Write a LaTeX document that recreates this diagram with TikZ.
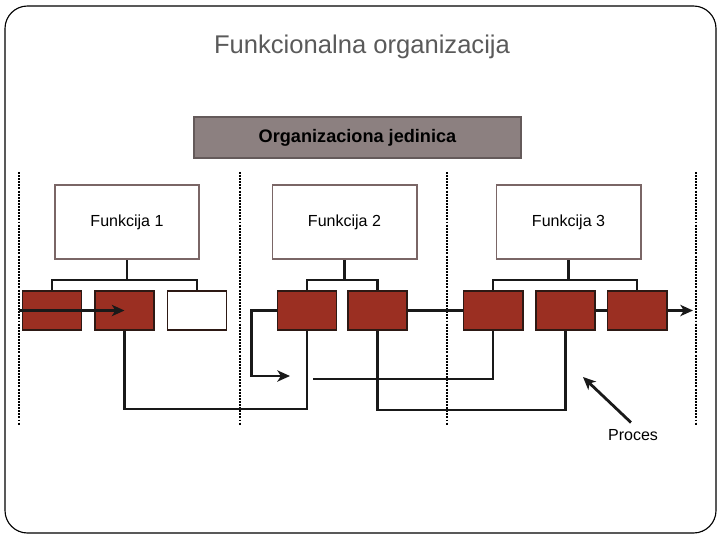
\documentclass[tikz,border=0pt]{standalone}
\usepackage{fontspec}
\setmainfont{Liberation Sans}
\usetikzlibrary{arrows.meta}
\definecolor{cellred}{RGB}{155,47,34}
\definecolor{celledge}{RGB}{45,25,20}
\definecolor{funcedge}{RGB}{122,102,102}
\definecolor{unitfill}{RGB}{140,128,128}
\definecolor{unitedge}{RGB}{100,90,90}
\definecolor{titlegray}{RGB}{90,90,90}
\begin{document}
\begin{tikzpicture}[
	  x=0.025cm, y=-0.025cm,
	  title/.style={font=\fontsize{18.2}{20}\selectfont, text=titlegray, anchor=center},
	  unit/.style={draw=unitedge, fill=unitfill, line width=1.4pt, minimum width=8.175cm,
	    minimum height=1.025cm, font=\fontsize{12.9}{14}\selectfont\bfseries, inner sep=0pt},
	  func/.style={draw=funcedge, fill=white, line width=1.4pt, minimum width=3.6cm,
	    minimum height=1.85cm, font=\fontsize{11.4}{13}\selectfont, inner sep=0pt},
	  cell/.style={draw=celledge, fill=cellred, line width=1.4pt, minimum width=1.475cm,
	    minimum height=0.975cm, inner sep=0pt},
	  free/.style={cell, fill=white},
	  link/.style={draw=black!90, line width=1.6pt},
	  arrow/.style={link, -{Stealth[length=9pt, width=8pt, inset=2.5pt]}},
	  flow/.style={arrow, line width=2.3pt},
	  sep/.style={line width=2pt, dash pattern=on 1.4pt off 0.8pt},
	  foot/.style={font=\fontsize{11.4}{13}\selectfont}]
	  \useasboundingbox (0,0) rectangle (720,540);
	  \draw[line width=0.8pt, rounded corners=16pt] (5,6) rectangle (716,533);
	  \node[title] (title) at (362,47) {Funkcionalna organizacija};
	  \node[unit] (unit) at (357.5,137.5) {Organizaciona jedinica};
	  \foreach \x in {19,240,447,696}
	    \draw[sep] (\x,172) -- (\x,425);
	  % functions
	  \node[func] (f1) at (127,222) {Funkcija 1};
	  \node[func] (f2) at (344.5,222) {Funkcija 2};
	  \node[func] (f3) at (568.5,222) {Funkcija 3};
	  % activities
	  \node[cell] (a) at (52,310.5) {};
	  \node[cell] (b) at (124.5,310.5) {};
	  \node[free] (c) at (197,310.5) {};
	  \node[cell] (d) at (307,310.5) {};
	  \node[cell] (e) at (377.5,310.5) {};
	  \node[cell] (f) at (493,310.5) {};
	  \node[cell] (g) at (565.5,310.5) {};
	  \node[cell] (h) at (637,310.5) {};
	  % brackets
	  \draw[link] (f1.south) -- (f1.south |- 0,280);
	  \draw[link] (a.north) -- (a.north |- 0,280) -- (c.north |- 0,280) -- (c.north);
	  \draw[link] (f2.south) -- (f2.south |- 0,280);
	  \draw[link] (d.north) -- (d.north |- 0,280) -- (e.north |- 0,280) -- (e.north);
	  \draw[link] (f3.south) -- (f3.south |- 0,280);
	  \draw[link] (f.north) -- (f.north |- 0,280) -- (h.north |- 0,280) -- (h.north);
	  % process
	  \coordinate (in) at (19,310.5);
	  \coordinate (loopend) at (290,376);
	  \coordinate (fend) at (313,379);
	  \coordinate (out) at (693,310.5);
	  \draw[flow] (in) -- (b.center);
	  \draw[link] (b.south) -- ++(0,78) -| (d.south);
	  \draw[arrow, line width=2pt] (d.west) -- ++(-25,0) |- (loopend);
	  \draw[link] (e.east) -- (f.west);
	  \draw[link] (e.south) -- ++(0,79) -| (g.south);
	  \draw[link] (f.south) |- (fend);
	  \draw[link, line width=2.3pt] (g.east) -- (h.west);
	  \draw[flow] (h.east) -- (out);
	  \node[foot] (proces) at (633,435) {Proces};
	  \coordinate (ptip) at (583,377);
	  \draw[flow, line width=2pt, shorten <=2pt] (proces.north) -- (ptip);
	\end{tikzpicture}
\end{document}
